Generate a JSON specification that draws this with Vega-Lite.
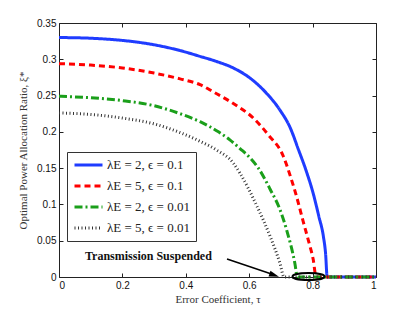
{
  "$schema": "https://vega.github.io/schema/vega-lite/v6.json",
  "width": 317,
  "height": 254,
  "autosize": "none",
  "padding": {"left": 59, "top": 23, "right": 39, "bottom": 36},
  "background": "white",
  "config": {
    "view": {"stroke": "#222", "strokeWidth": 1},
    "axis": {"grid": false, "domain": false, "tickColor": "#222", "tickSize": -4, "labelFont": "Liberation Sans", "labelFontSize": 10, "labelColor": "#111", "titleFont": "Liberation Serif", "titleFontSize": 11, "titleFontWeight": "normal", "titleColor": "#333", "labelPadding": 7},
    "legend": {"labelFont": "Liberation Serif"}
  },
  "datasets": {
    "curves": [
      {"tau": 0, "xi": 0.330, "s": "λE = 2, ϵ = 0.1"},
      {"tau": 0.1, "xi": 0.329, "s": "λE = 2, ϵ = 0.1"},
      {"tau": 0.2, "xi": 0.326, "s": "λE = 2, ϵ = 0.1"},
      {"tau": 0.3, "xi": 0.320, "s": "λE = 2, ϵ = 0.1"},
      {"tau": 0.382, "xi": 0.312, "s": "λE = 2, ϵ = 0.1"},
      {"tau": 0.445, "xi": 0.304, "s": "λE = 2, ϵ = 0.1"},
      {"tau": 0.497, "xi": 0.297, "s": "λE = 2, ϵ = 0.1"},
      {"tau": 0.550, "xi": 0.288, "s": "λE = 2, ϵ = 0.1"},
      {"tau": 0.603, "xi": 0.274, "s": "λE = 2, ϵ = 0.1"},
      {"tau": 0.655, "xi": 0.253, "s": "λE = 2, ϵ = 0.1"},
      {"tau": 0.697, "xi": 0.230, "s": "λE = 2, ϵ = 0.1"},
      {"tau": 0.729, "xi": 0.206, "s": "λE = 2, ϵ = 0.1"},
      {"tau": 0.755, "xi": 0.176, "s": "λE = 2, ϵ = 0.1"},
      {"tau": 0.780, "xi": 0.146, "s": "λE = 2, ϵ = 0.1"},
      {"tau": 0.802, "xi": 0.115, "s": "λE = 2, ϵ = 0.1"},
      {"tau": 0.820, "xi": 0.083, "s": "λE = 2, ϵ = 0.1"},
      {"tau": 0.834, "xi": 0.056, "s": "λE = 2, ϵ = 0.1"},
      {"tau": 0.841, "xi": 0.032, "s": "λE = 2, ϵ = 0.1"},
      {"tau": 0.846, "xi": 0, "s": "λE = 2, ϵ = 0.1"},
      {"tau": 1, "xi": 0, "s": "λE = 2, ϵ = 0.1"},
      {"tau": 0, "xi": 0.294, "s": "λE = 5, ϵ = 0.1"},
      {"tau": 0.1, "xi": 0.292, "s": "λE = 5, ϵ = 0.1"},
      {"tau": 0.2, "xi": 0.288, "s": "λE = 5, ϵ = 0.1"},
      {"tau": 0.3, "xi": 0.281, "s": "λE = 5, ϵ = 0.1"},
      {"tau": 0.382, "xi": 0.273, "s": "λE = 5, ϵ = 0.1"},
      {"tau": 0.445, "xi": 0.265, "s": "λE = 5, ϵ = 0.1"},
      {"tau": 0.487, "xi": 0.255, "s": "λE = 5, ϵ = 0.1"},
      {"tau": 0.550, "xi": 0.239, "s": "λE = 5, ϵ = 0.1"},
      {"tau": 0.613, "xi": 0.219, "s": "λE = 5, ϵ = 0.1"},
      {"tau": 0.660, "xi": 0.196, "s": "λE = 5, ϵ = 0.1"},
      {"tau": 0.708, "xi": 0.166, "s": "λE = 5, ϵ = 0.1"},
      {"tau": 0.729, "xi": 0.140, "s": "λE = 5, ϵ = 0.1"},
      {"tau": 0.750, "xi": 0.110, "s": "λE = 5, ϵ = 0.1"},
      {"tau": 0.770, "xi": 0.077, "s": "λE = 5, ϵ = 0.1"},
      {"tau": 0.790, "xi": 0.045, "s": "λE = 5, ϵ = 0.1"},
      {"tau": 0.802, "xi": 0.024, "s": "λE = 5, ϵ = 0.1"},
      {"tau": 0.811, "xi": 0, "s": "λE = 5, ϵ = 0.1"},
      {"tau": 1, "xi": 0, "s": "λE = 5, ϵ = 0.1"},
      {"tau": 0, "xi": 0.249, "s": "λE = 2, ϵ = 0.01"},
      {"tau": 0.1, "xi": 0.247, "s": "λE = 2, ϵ = 0.01"},
      {"tau": 0.2, "xi": 0.243, "s": "λE = 2, ϵ = 0.01"},
      {"tau": 0.3, "xi": 0.236, "s": "λE = 2, ϵ = 0.01"},
      {"tau": 0.382, "xi": 0.225, "s": "λE = 2, ϵ = 0.01"},
      {"tau": 0.445, "xi": 0.214, "s": "λE = 2, ϵ = 0.01"},
      {"tau": 0.503, "xi": 0.200, "s": "λE = 2, ϵ = 0.01"},
      {"tau": 0.539, "xi": 0.189, "s": "λE = 2, ϵ = 0.01"},
      {"tau": 0.571, "xi": 0.177, "s": "λE = 2, ϵ = 0.01"},
      {"tau": 0.603, "xi": 0.164, "s": "λE = 2, ϵ = 0.01"},
      {"tau": 0.629, "xi": 0.150, "s": "λE = 2, ϵ = 0.01"},
      {"tau": 0.666, "xi": 0.121, "s": "λE = 2, ϵ = 0.01"},
      {"tau": 0.697, "xi": 0.093, "s": "λE = 2, ϵ = 0.01"},
      {"tau": 0.718, "xi": 0.065, "s": "λE = 2, ϵ = 0.01"},
      {"tau": 0.744, "xi": 0.019, "s": "λE = 2, ϵ = 0.01"},
      {"tau": 0.752, "xi": 0, "s": "λE = 2, ϵ = 0.01"},
      {"tau": 1, "xi": 0, "s": "λE = 2, ϵ = 0.01"},
      {"tau": 0, "xi": 0.226, "s": "λE = 5, ϵ = 0.01"},
      {"tau": 0.1, "xi": 0.224, "s": "λE = 5, ϵ = 0.01"},
      {"tau": 0.2, "xi": 0.219, "s": "λE = 5, ϵ = 0.01"},
      {"tau": 0.3, "xi": 0.211, "s": "λE = 5, ϵ = 0.01"},
      {"tau": 0.382, "xi": 0.199, "s": "λE = 5, ϵ = 0.01"},
      {"tau": 0.445, "xi": 0.187, "s": "λE = 5, ϵ = 0.01"},
      {"tau": 0.497, "xi": 0.175, "s": "λE = 5, ϵ = 0.01"},
      {"tau": 0.550, "xi": 0.157, "s": "λE = 5, ϵ = 0.01"},
      {"tau": 0.571, "xi": 0.143, "s": "λE = 5, ϵ = 0.01"},
      {"tau": 0.624, "xi": 0.098, "s": "λE = 5, ϵ = 0.01"},
      {"tau": 0.666, "xi": 0.056, "s": "λE = 5, ϵ = 0.01"},
      {"tau": 0.697, "xi": 0.019, "s": "λE = 5, ϵ = 0.01"},
      {"tau": 0.710, "xi": 0, "s": "λE = 5, ϵ = 0.01"},
      {"tau": 1, "xi": 0, "s": "λE = 5, ϵ = 0.01"}
    ],
    "note": [{"tau": 0.282, "xi": 0.029, "label": "Transmission Suspended"}],
    "arrow": [{"tau": 0.530, "xi": 0.0249, "tau2": 0.675, "xi2": 0.0035}],
    "head": [{"tau": 0.679, "xi": 0.0025}],
    "ellipse": [{"tau": 0.787, "xi": 0.0008}]
  },
  "layer": [
    {
      "data": {"name": "curves"},
      "mark": {"type": "line", "opacity": 0},
      "encoding": {
        "x": {"field": "tau", "type": "quantitative", "scale": {"domain": [0, 1], "nice": false}, "axis": {"orient": "top", "labels": false, "title": null, "values": [0, 0.2, 0.4, 0.6, 0.8, 1]}},
        "y": {"field": "xi", "type": "quantitative", "scale": {"domain": [0, 0.35], "nice": false}, "axis": {"orient": "right", "labels": false, "title": null, "values": [0, 0.05, 0.1, 0.15, 0.2, 0.25, 0.3, 0.35]}},
        "detail": {"field": "s"}
      }
    },
    {
      "data": {"name": "curves"},
      "mark": {"type": "line", "interpolate": "monotone"},
      "encoding": {
        "x": {"field": "tau", "type": "quantitative", "axis": {"orient": "bottom", "title": "Error Coefficient, τ", "format": "~g", "values": [0, 0.2, 0.4, 0.6, 0.8, 1], "titlePadding": 3}},
        "y": {"field": "xi", "type": "quantitative", "axis": {"orient": "left", "title": "Optimal Power Allocation Ratio, ξ*", "format": "~g", "values": [0, 0.05, 0.1, 0.15, 0.2, 0.25, 0.3, 0.35], "titlePadding": 8}},
        "color": {"field": "s", "type": "nominal", "sort": ["λE = 2, ϵ = 0.1", "λE = 5, ϵ = 0.1", "λE = 2, ϵ = 0.01", "λE = 5, ϵ = 0.01"],
          "scale": {"domain": ["λE = 2, ϵ = 0.1", "λE = 5, ϵ = 0.1", "λE = 2, ϵ = 0.01", "λE = 5, ϵ = 0.01"], "range": ["#1f3cff", "#ff0000", "#1a9f1a", "#333333"]},
          "legend": {"title": null, "orient": "none", "legendX": 8, "legendY": 129, "fillColor": "white", "strokeColor": "#333", "padding": 6, "labelFont": "Liberation Serif", "labelFontSize": 13, "labelColor": "#222", "symbolType": "stroke", "symbolSize": 784, "symbolStrokeWidth": 3, "clipHeight": 14, "rowPadding": 7, "labelOffset": 3, "labelLimit": 200}},
        "strokeDash": {"field": "s", "type": "nominal",
          "scale": {"domain": ["λE = 2, ϵ = 0.1", "λE = 5, ϵ = 0.1", "λE = 2, ϵ = 0.01", "λE = 5, ϵ = 0.01"], "range": [[1, 0], [6, 4], [8, 3, 2, 3], [1, 2.5]]}},
        "strokeWidth": {"field": "s", "type": "nominal", "legend": null,
          "scale": {"domain": ["λE = 2, ϵ = 0.1", "λE = 5, ϵ = 0.1", "λE = 2, ϵ = 0.01", "λE = 5, ϵ = 0.01"], "range": [3, 3, 3, 1.5]}}
      }
    },
    {
      "data": {"name": "note"},
      "mark": {"type": "text", "font": "Liberation Serif", "fontWeight": "bold", "fontSize": 12, "align": "center", "baseline": "middle", "color": "#111"},
      "encoding": {"x": {"field": "tau", "type": "quantitative", "axis": null}, "y": {"field": "xi", "type": "quantitative", "axis": null}, "text": {"field": "label"}}
    },
    {
      "data": {"name": "arrow"},
      "mark": {"type": "rule", "strokeWidth": 1.5, "color": "#000"},
      "encoding": {"x": {"field": "tau", "type": "quantitative", "axis": null}, "y": {"field": "xi", "type": "quantitative", "axis": null}, "x2": {"field": "tau2"}, "y2": {"field": "xi2"}}
    },
    {
      "data": {"name": "head"},
      "mark": {"type": "point", "shape": "M -1 -0.6 L 1 0 L -1 0.6 Z", "angle": 19, "size": 100, "filled": true, "color": "#000", "opacity": 1},
      "encoding": {"x": {"field": "tau", "type": "quantitative", "axis": null}, "y": {"field": "xi", "type": "quantitative", "axis": null}}
    },
    {
      "data": {"name": "ellipse"},
      "mark": {"type": "point", "shape": "M -1 0 A 1 0.22 0 1 0 1 0 A 1 0.22 0 1 0 -1 0 Z", "size": 1024, "filled": false, "color": "#000", "strokeWidth": 2, "opacity": 1},
      "encoding": {"x": {"field": "tau", "type": "quantitative", "axis": null}, "y": {"field": "xi", "type": "quantitative", "axis": null}}
    }
  ],
  "resolve": {"axis": {"x": "independent", "y": "independent"}}
}
